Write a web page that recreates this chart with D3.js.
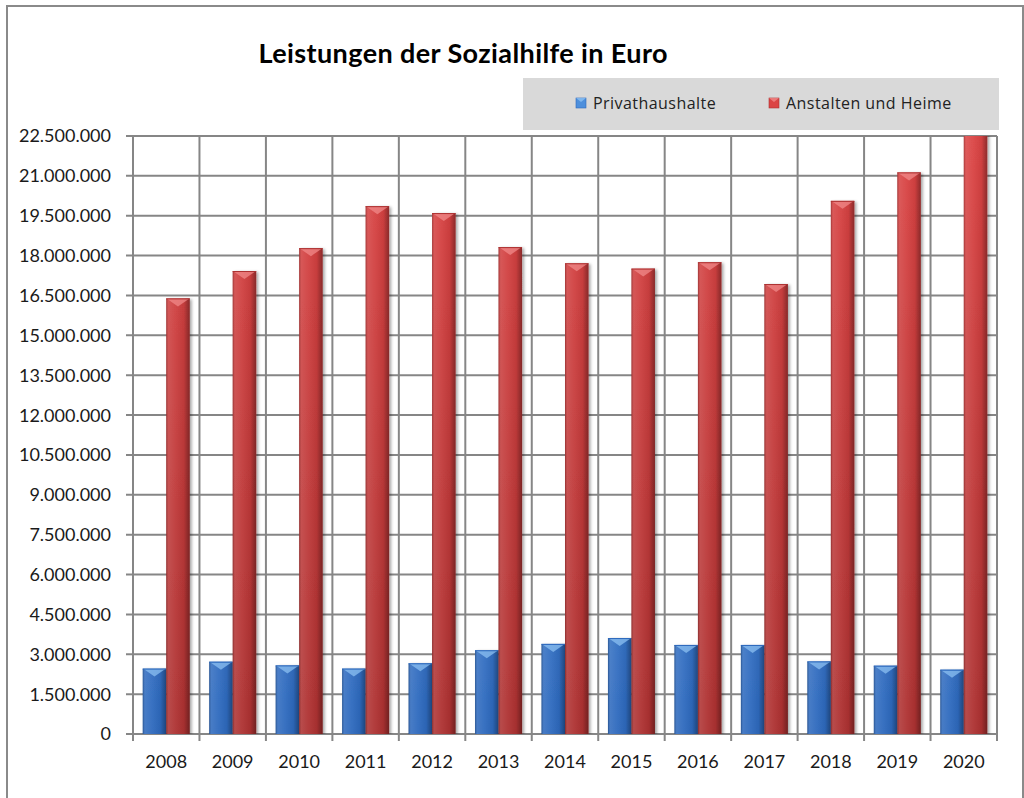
<!DOCTYPE html>
<html>
<head>
<meta charset="utf-8">
<script src="https://cdn.jsdelivr.net/npm/d3@7/dist/d3.min.js"></script>
<style>
  html, body { margin: 0; padding: 0; background: #fff; }
  svg { display: block; }
</style>
</head>
<body>
<svg id="chart" width="1024" height="798"></svg>
<script>
// Sozialhilfe-Leistungen je Jahr (Euro)
const years = ["2008","2009","2010","2011","2012","2013","2014","2015","2016","2017","2018","2019","2020"];
const seriesNames = ["Privathaushalte", "Anstalten und Heime"];
const privathaushalte = [2460000, 2720000, 2580000, 2460000, 2660000, 3150000, 3390000, 3610000, 3350000, 3350000, 2730000, 2570000, 2420000];
const anstalten = [16390000, 17420000, 18280000, 19860000, 19600000, 18320000, 17710000, 17510000, 17750000, 16930000, 20060000, 21130000, 22700000];
const yTicks = [0, 1500000, 3000000, 4500000, 6000000, 7500000, 9000000, 10500000, 12000000, 13500000, 15000000, 16500000, 18000000, 19500000, 21000000, 22500000];

const svg = d3.select("#chart");
const plot = { left: 133, right: 997, top: 136, bottom: 734 };
const font = "Lato, 'Open Sans', sans-serif";

const fmt = v => v === 0 ? "0" : d3.format(",")(v).replace(/,/g, ".");

const x0 = d3.scaleBand().domain(years).range([plot.left, plot.right]).paddingInner(0).paddingOuter(0);
const x1 = d3.scaleBand().domain(seriesNames).range([0, x0.bandwidth()]).paddingInner(0).paddingOuter(0.414);
const y = d3.scaleLinear().domain([0, 22500000]).range([plot.bottom, plot.top]);

const defs = svg.append("defs");
defs.append("clipPath").attr("id", "plotClip").append("rect")
  .attr("x", plot.left).attr("y", plot.top)
  .attr("width", plot.right - plot.left).attr("height", plot.bottom - plot.top);

// base colours: vertical gradients over the plot height
const palettes = {
  "Privathaushalte": { top: "#4d8fdc", bottom: "#2d69bd", bevel: "#8cc0f2", id: "blue" },
  "Anstalten und Heime": { top: "#db4444", bottom: "#ad3232", bevel: "#f08a8a", id: "red" }
};
Object.values(palettes).forEach(p => {
  const g = defs.append("linearGradient").attr("id", "v-" + p.id)
    .attr("gradientUnits", "userSpaceOnUse")
    .attr("x1", 0).attr("x2", 0).attr("y1", plot.top).attr("y2", plot.bottom);
  g.append("stop").attr("offset", "0%").attr("stop-color", p.top);
  g.append("stop").attr("offset", "100%").attr("stop-color", p.bottom);
});
// horizontal shading for the rounded look
const hs = defs.append("linearGradient").attr("id", "hshade").attr("x1", 0).attr("x2", 1).attr("y1", 0).attr("y2", 0);
[["0%", "#000", 0.25], ["10%", "#fff", 0.12], ["40%", "#fff", 0.05], ["75%", "#000", 0.05], ["100%", "#000", 0.35]]
  .forEach(([o, c, a]) => hs.append("stop").attr("offset", o).attr("stop-color", c).attr("stop-opacity", a));
const shadow = defs.append("filter").attr("id", "shadow").attr("x", "-20%").attr("y", "-5%").attr("width", "150%").attr("height", "110%");
shadow.append("feDropShadow").attr("dx", 2).attr("dy", 1).attr("stdDeviation", 1.5)
  .attr("flood-color", "#000").attr("flood-opacity", 0.35);

// outer frame
svg.append("rect").attr("x", 7).attr("y", 6).attr("width", 1016).attr("height", 820)
  .attr("fill", "#fff").attr("stroke", "#8a8a8a").attr("stroke-width", 2);

// title
svg.append("text").attr("x", 463).attr("y", 63).attr("text-anchor", "middle")
  .attr("font-family", font).attr("font-weight", 700).attr("font-size", 27)
  .attr("textLength", 409).attr("lengthAdjust", "spacing")
  .attr("fill", "#000").text("Leistungen der Sozialhilfe in Euro");

// legend
const legend = svg.append("g");
legend.append("rect").attr("x", 523).attr("y", 78).attr("width", 476).attr("height", 52).attr("fill", "#d9d9d9");
const legendItems = [{ name: seriesNames[0], x: 576 }, { name: seriesNames[1], x: 769 }];
legendItems.forEach(it => {
  const p = palettes[it.name];
  legend.append("rect").attr("x", it.x).attr("y", 98).attr("width", 10).attr("height", 10)
    .attr("fill", `url(#v-${p.id})`).attr("stroke", p.bottom).attr("stroke-width", 0.6);
  legend.append("path").attr("d", `M${it.x},98 L${it.x + 10},98 L${it.x + 5},102 Z`).attr("fill", p.bevel).attr("opacity", 0.8);
  legend.append("text").attr("x", it.x + 17).attr("y", 109)
    .attr("font-family", "'Open Sans', sans-serif").attr("font-size", 16).attr("letter-spacing", 0.45)
    .attr("fill", "#222").text(it.name);
});

// gridlines
const grid = svg.append("g").attr("stroke", "#868686").attr("stroke-width", 2);
grid.selectAll(".h").data(yTicks).join("line")
  .attr("x1", plot.left - 7).attr("x2", plot.right)
  .attr("y1", d => y(d)).attr("y2", d => y(d));
const bounds = years.map(d => x0(d)).concat([plot.right]);
grid.selectAll(".v").data(bounds).join("line")
  .attr("x1", d => d).attr("x2", d => d)
  .attr("y1", plot.top).attr("y2", plot.bottom + 7);

// y-axis labels
svg.append("g").selectAll("text").data(yTicks).join("text")
  .attr("x", 111).attr("y", d => y(d)).attr("dy", "0.36em").attr("text-anchor", "end")
  .attr("font-family", font).attr("font-size", 18).attr("fill", "#1a1a1a").text(fmt);

// x-axis labels
svg.append("g").selectAll("text").data(years).join("text")
  .attr("x", d => x0(d) + x0.bandwidth() / 2).attr("y", 768).attr("text-anchor", "middle")
  .attr("font-family", font).attr("font-size", 18).attr("fill", "#1a1a1a").text(d => d);

// bars
const rows = years.map((yr, i) => ({ year: yr, values: [
  { series: seriesNames[0], value: privathaushalte[i] },
  { series: seriesNames[1], value: anstalten[i] }
]}));
const barsG = svg.append("g").attr("clip-path", "url(#plotClip)");
const groups = barsG.selectAll("g.year").data(rows).join("g").attr("class", "year")
  .attr("transform", d => `translate(${x0(d.year)},0)`);
const bar = groups.selectAll("g.bar").data(d => d.values).join("g").attr("class", "bar");
bar.append("rect")
  .attr("x", d => x1(d.series)).attr("width", x1.bandwidth())
  .attr("y", d => y(d.value)).attr("height", d => y(0) - y(d.value))
  .attr("fill", d => `url(#v-${palettes[d.series].id})`)
  .attr("filter", "url(#shadow)");
bar.append("rect")
  .attr("x", d => x1(d.series)).attr("width", x1.bandwidth())
  .attr("y", d => y(d.value)).attr("height", d => y(0) - y(d.value))
  .attr("fill", "url(#hshade)");
// bevelled top facet
bar.filter(d => d.value <= 22500000).append("path")
  .attr("d", d => {
    const bx = x1(d.series), bw = x1.bandwidth(), ty = y(d.value);
    return `M${bx + 1},${ty + 0.5} L${bx + bw - 1},${ty + 0.5} L${bx + bw / 2},${ty + 8} Z`;
  })
  .attr("fill", d => palettes[d.series].bevel).attr("opacity", 0.75);
bar.filter(d => d.value <= 22500000).append("line")
  .attr("x1", d => x1(d.series)).attr("x2", d => x1(d.series) + x1.bandwidth())
  .attr("y1", d => y(d.value) + 0.5).attr("y2", d => y(d.value) + 0.5)
  .attr("stroke", d => palettes[d.series].bottom).attr("stroke-width", 1);
</script>
</body>
</html>
